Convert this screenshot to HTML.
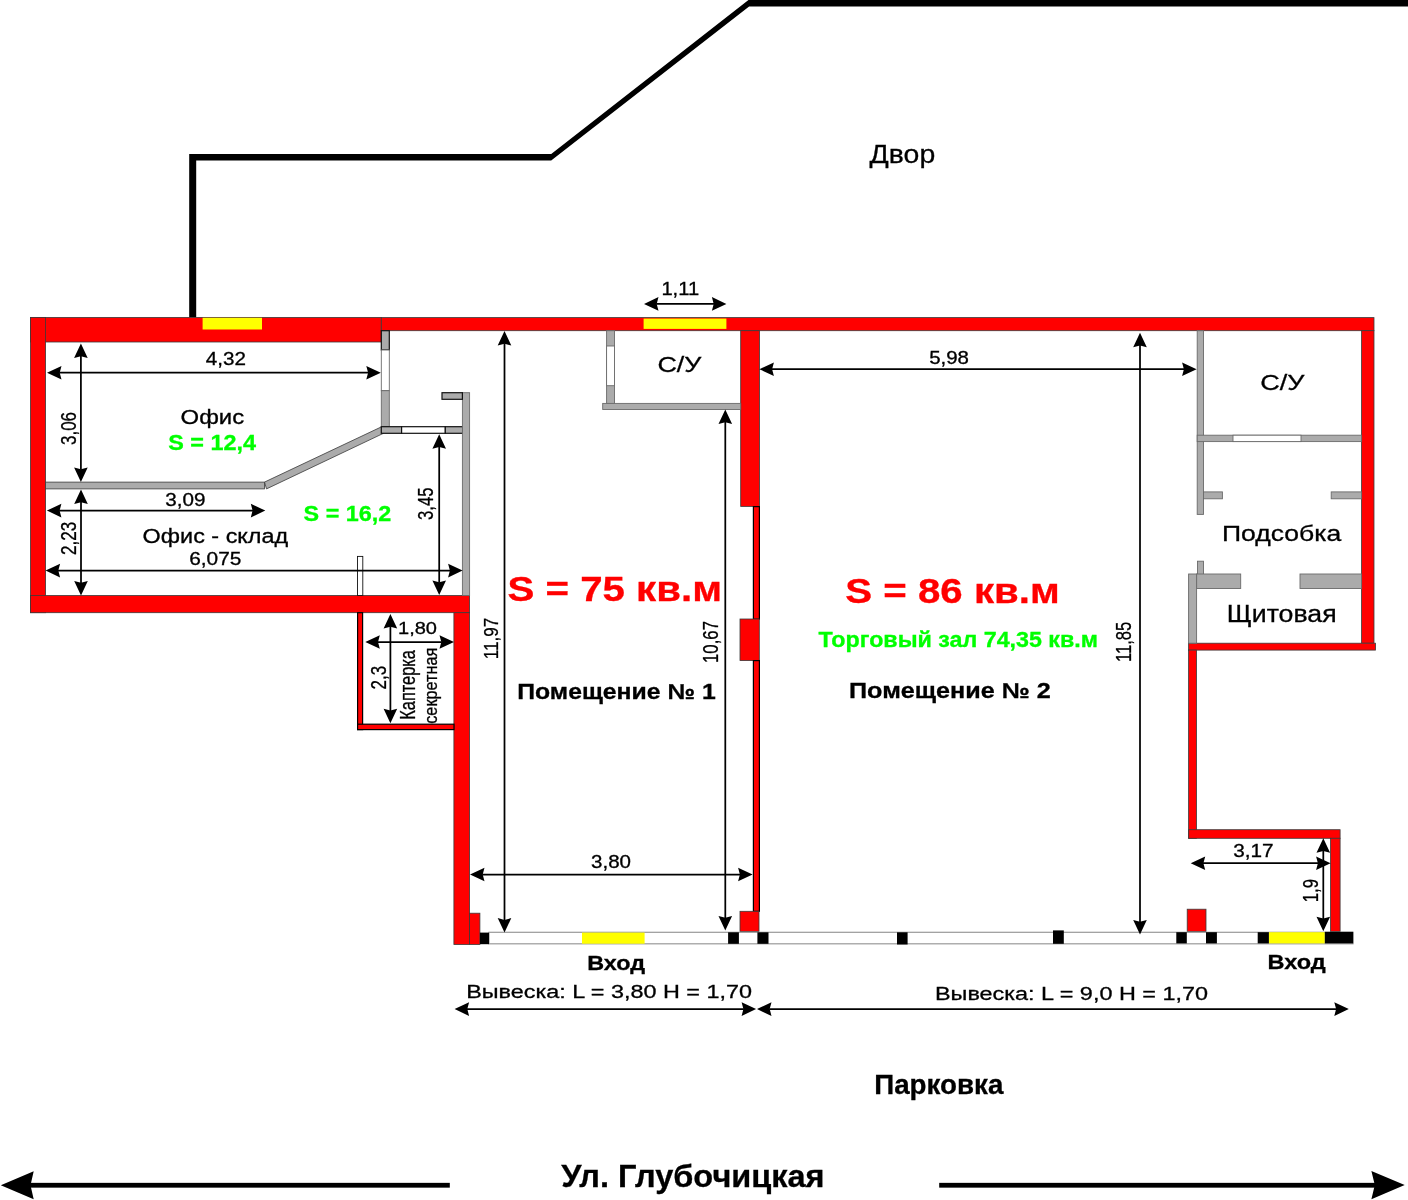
<!DOCTYPE html><html><head><meta charset="utf-8"><style>html,body{margin:0;padding:0;background:#fff;overflow:hidden}svg{display:block;will-change:transform}text{font-family:"Liberation Sans",sans-serif}</style></head><body>
<svg width="1408" height="1200" viewBox="0 0 1408 1200">
<rect width="1408" height="1200" fill="#fff"/>
<polygon points="189.2,317.5 189.2,154 551.2,154 749.1,-0.5 1408,-0.5 1408,6.4 749.1,6.4 551.2,160.4 196.2,160.4 196.2,317.5" fill="#000"/>
<rect x="30.50" y="317.40" width="350.80" height="24.60" fill="#ff0000" stroke="#3a3a3a" stroke-width="0.8"/>
<rect x="381.30" y="317.60" width="992.70" height="13.10" fill="#ff0000" stroke="#3a3a3a" stroke-width="0.8"/>
<rect x="30.50" y="317.40" width="15.10" height="295.30" fill="#ff0000" stroke="#3a3a3a" stroke-width="0.8"/>
<rect x="30.50" y="595.50" width="439.10" height="17.20" fill="#ff0000" stroke="#3a3a3a" stroke-width="0.8"/>
<rect x="1361.60" y="330.70" width="12.40" height="312.50" fill="#ff0000" stroke="#3a3a3a" stroke-width="0.8"/>
<rect x="1188.60" y="643.20" width="186.90" height="6.90" fill="#ff0000" stroke="#3a3a3a" stroke-width="0.8"/>
<rect x="1188.60" y="650.10" width="7.90" height="188.20" fill="#ff0000" stroke="#3a3a3a" stroke-width="0.8"/>
<rect x="1188.70" y="829.70" width="151.40" height="8.60" fill="#ff0000" stroke="#3a3a3a" stroke-width="0.8"/>
<rect x="1330.60" y="838.30" width="9.50" height="93.20" fill="#ff0000" stroke="#3a3a3a" stroke-width="0.8"/>
<rect x="453.90" y="612.70" width="15.70" height="331.80" fill="#ff0000" stroke="#3a3a3a" stroke-width="0.8"/>
<rect x="469.60" y="913.20" width="10.30" height="31.30" fill="#ff0000" stroke="#3a3a3a" stroke-width="0.8"/>
<rect x="740.70" y="330.70" width="18.80" height="175.70" fill="#ff0000" stroke="#3a3a3a" stroke-width="0.8"/>
<rect x="753.40" y="506.60" width="6.00" height="112.60" fill="#ff0000" stroke="#000" stroke-width="1.2"/>
<rect x="740.00" y="619.00" width="19.30" height="41.60" fill="#ff0000" stroke="#3a3a3a" stroke-width="0.8"/>
<rect x="753.40" y="660.60" width="6.00" height="250.70" fill="#ff0000" stroke="#000" stroke-width="1.2"/>
<rect x="740.00" y="911.30" width="19.00" height="20.20" fill="#ff0000" stroke="#3a3a3a" stroke-width="0.8"/>
<rect x="1187.20" y="909.20" width="18.80" height="22.30" fill="#ff0000" stroke="#3a3a3a" stroke-width="0.8"/>
<rect x="357.60" y="612.70" width="5.00" height="116.90" fill="#ff0000" stroke="#000" stroke-width="1.2"/>
<rect x="357.60" y="724.20" width="96.40" height="5.40" fill="#ff0000" stroke="#000" stroke-width="1.2"/>
<rect x="202.60" y="317.80" width="59.40" height="11.70" fill="#ffff00"/>
<rect x="643.60" y="318.60" width="82.80" height="10.30" fill="#ffff00"/>
<rect x="489.00" y="932.30" width="864.00" height="11.50" fill="#fff" stroke="#9a9a9a" stroke-width="1.2"/>
<rect x="582.00" y="932.60" width="62.60" height="11.10" fill="#ffff00"/>
<rect x="1268.90" y="932.20" width="55.90" height="11.20" fill="#ffff00"/>
<rect x="479.90" y="932.60" width="9.10" height="11.60" fill="#000"/>
<rect x="728.10" y="932.30" width="10.80" height="11.50" fill="#000"/>
<rect x="757.40" y="932.30" width="11.10" height="11.50" fill="#000"/>
<rect x="897.00" y="932.30" width="10.60" height="12.20" fill="#000"/>
<rect x="1053.00" y="930.40" width="10.80" height="13.40" fill="#000"/>
<rect x="1176.30" y="932.20" width="10.50" height="11.20" fill="#000"/>
<rect x="1206.00" y="932.20" width="10.90" height="11.20" fill="#000"/>
<rect x="1257.70" y="932.20" width="11.20" height="11.20" fill="#000"/>
<rect x="1324.80" y="931.80" width="28.40" height="11.60" fill="#000"/>
<rect x="45.60" y="482.10" width="218.90" height="6.80" fill="#ababab" stroke="#3a3a3a" stroke-width="0.8"/>
<polygon points="264.5,482.1 381.5,426.8 383.5,433.3 266.5,488.9" fill="#ababab" stroke="#3a3a3a" stroke-width="0.8"/>
<rect x="381.30" y="330.70" width="8.00" height="19.30" fill="#ababab" stroke="#111" stroke-width="1.2"/>
<rect x="381.30" y="350.00" width="8.00" height="40.70" fill="#fff" stroke="#6a6a6a" stroke-width="0.9"/>
<rect x="381.30" y="390.70" width="8.00" height="36.00" fill="#ababab" stroke="#6a6a6a" stroke-width="0.9"/>
<rect x="381.30" y="426.70" width="20.30" height="6.60" fill="#ababab" stroke="#111" stroke-width="1.2"/>
<rect x="401.60" y="426.70" width="43.70" height="6.60" fill="#fff" stroke="#111" stroke-width="1.2"/>
<rect x="445.30" y="426.70" width="17.40" height="6.60" fill="#ababab" stroke="#111" stroke-width="1.2"/>
<rect x="462.40" y="392.70" width="7.20" height="202.80" fill="#ababab" stroke="#6a6a6a" stroke-width="0.9"/>
<rect x="442.00" y="392.70" width="20.40" height="6.60" fill="#ababab" stroke="#111" stroke-width="1.2"/>
<rect x="357.50" y="556.40" width="5.30" height="39.10" fill="#fff" stroke="#111" stroke-width="0.9"/>
<rect x="606.60" y="330.70" width="7.90" height="72.90" fill="#ababab" stroke="#6a6a6a" stroke-width="0.9"/>
<rect x="606.60" y="346.00" width="7.90" height="39.70" fill="#fff" stroke="#6a6a6a" stroke-width="0.9"/>
<rect x="602.70" y="403.40" width="138.00" height="6.10" fill="#ababab" stroke="#6a6a6a" stroke-width="0.9"/>
<rect x="1197.20" y="330.70" width="6.30" height="183.70" fill="#ababab" stroke="#6a6a6a" stroke-width="0.9"/>
<rect x="1197.20" y="435.20" width="164.40" height="6.40" fill="#ababab" stroke="#6a6a6a" stroke-width="0.9"/>
<rect x="1233.00" y="435.20" width="68.00" height="6.40" fill="#fff" stroke="#6a6a6a" stroke-width="0.9"/>
<rect x="1203.50" y="491.90" width="18.90" height="6.90" fill="#ababab" stroke="#6a6a6a" stroke-width="0.9"/>
<rect x="1331.20" y="491.90" width="30.40" height="6.90" fill="#ababab" stroke="#6a6a6a" stroke-width="0.9"/>
<rect x="1197.50" y="561.20" width="6.00" height="13.40" fill="#ababab" stroke="#6a6a6a" stroke-width="0.9"/>
<rect x="1196.60" y="574.00" width="44.10" height="14.50" fill="#ababab" stroke="#6a6a6a" stroke-width="0.9"/>
<rect x="1300.00" y="574.00" width="61.60" height="14.50" fill="#ababab" stroke="#6a6a6a" stroke-width="0.9"/>
<rect x="1188.60" y="574.00" width="8.00" height="69.20" fill="#ababab" stroke="#6a6a6a" stroke-width="0.9"/>
<line x1="59.20" y1="372.70" x2="368.60" y2="372.70" stroke="#000" stroke-width="1.75"/>
<polygon points="380.80,372.70 366.30,379.50 368.10,372.70 366.30,365.90" fill="#000"/>
<polygon points="47.00,372.70 61.50,365.90 59.70,372.70 61.50,379.50" fill="#000"/>
<line x1="80.90" y1="355.70" x2="80.90" y2="469.80" stroke="#000" stroke-width="1.75"/>
<polygon points="80.90,482.00 74.10,467.50 80.90,469.30 87.70,467.50" fill="#000"/>
<polygon points="80.90,343.50 87.70,358.00 80.90,356.20 74.10,358.00" fill="#000"/>
<line x1="59.10" y1="510.60" x2="253.10" y2="510.60" stroke="#000" stroke-width="1.75"/>
<polygon points="265.30,510.60 250.80,517.40 252.60,510.60 250.80,503.80" fill="#000"/>
<polygon points="46.90,510.60 61.40,503.80 59.60,510.60 61.40,517.40" fill="#000"/>
<line x1="81.00" y1="501.80" x2="81.00" y2="583.20" stroke="#000" stroke-width="1.75"/>
<polygon points="81.00,595.40 74.20,580.90 81.00,582.70 87.80,580.90" fill="#000"/>
<polygon points="81.00,489.60 87.80,504.10 81.00,502.30 74.20,504.10" fill="#000"/>
<line x1="57.80" y1="570.60" x2="450.40" y2="570.60" stroke="#000" stroke-width="1.75"/>
<polygon points="462.60,570.60 448.10,577.40 449.90,570.60 448.10,563.80" fill="#000"/>
<polygon points="45.60,570.60 60.10,563.80 58.30,570.60 60.10,577.40" fill="#000"/>
<line x1="439.20" y1="446.40" x2="439.20" y2="582.70" stroke="#000" stroke-width="1.75"/>
<polygon points="439.20,594.90 432.40,580.40 439.20,582.20 446.00,580.40" fill="#000"/>
<polygon points="439.20,434.20 446.00,448.70 439.20,446.90 432.40,448.70" fill="#000"/>
<line x1="377.50" y1="642.00" x2="441.80" y2="642.00" stroke="#000" stroke-width="1.75"/>
<polygon points="454.00,642.00 439.50,648.80 441.30,642.00 439.50,635.20" fill="#000"/>
<polygon points="365.30,642.00 379.80,635.20 378.00,642.00 379.80,648.80" fill="#000"/>
<line x1="390.40" y1="626.20" x2="390.40" y2="711.10" stroke="#000" stroke-width="1.75"/>
<polygon points="390.40,723.30 383.60,708.80 390.40,710.60 397.20,708.80" fill="#000"/>
<polygon points="390.40,614.00 397.20,628.50 390.40,626.70 383.60,628.50" fill="#000"/>
<line x1="504.50" y1="343.20" x2="504.50" y2="920.40" stroke="#000" stroke-width="1.75"/>
<polygon points="504.50,932.60 497.70,918.10 504.50,919.90 511.30,918.10" fill="#000"/>
<polygon points="504.50,331.00 511.30,345.50 504.50,343.70 497.70,345.50" fill="#000"/>
<line x1="656.20" y1="303.90" x2="714.20" y2="303.90" stroke="#000" stroke-width="1.75"/>
<polygon points="726.40,303.90 711.90,310.70 713.70,303.90 711.90,297.10" fill="#000"/>
<polygon points="644.00,303.90 658.50,297.10 656.70,303.90 658.50,310.70" fill="#000"/>
<line x1="725.30" y1="421.70" x2="725.30" y2="918.30" stroke="#000" stroke-width="1.75"/>
<polygon points="725.30,930.50 718.50,916.00 725.30,917.80 732.10,916.00" fill="#000"/>
<polygon points="725.30,409.50 732.10,424.00 725.30,422.20 718.50,424.00" fill="#000"/>
<line x1="482.20" y1="874.50" x2="740.40" y2="874.50" stroke="#000" stroke-width="1.75"/>
<polygon points="752.60,874.50 738.10,881.30 739.90,874.50 738.10,867.70" fill="#000"/>
<polygon points="470.00,874.50 484.50,867.70 482.70,874.50 484.50,881.30" fill="#000"/>
<line x1="771.60" y1="369.20" x2="1184.40" y2="369.20" stroke="#000" stroke-width="1.75"/>
<polygon points="1196.60,369.20 1182.10,376.00 1183.90,369.20 1182.10,362.40" fill="#000"/>
<polygon points="759.40,369.20 773.90,362.40 772.10,369.20 773.90,376.00" fill="#000"/>
<line x1="1140.00" y1="345.00" x2="1140.00" y2="922.30" stroke="#000" stroke-width="1.75"/>
<polygon points="1140.00,934.50 1133.20,920.00 1140.00,921.80 1146.80,920.00" fill="#000"/>
<polygon points="1140.00,332.80 1146.80,347.30 1140.00,345.50 1133.20,347.30" fill="#000"/>
<line x1="1202.90" y1="863.20" x2="1318.40" y2="863.20" stroke="#000" stroke-width="1.75"/>
<polygon points="1330.60,863.20 1316.10,870.00 1317.90,863.20 1316.10,856.40" fill="#000"/>
<polygon points="1190.70,863.20 1205.20,856.40 1203.40,863.20 1205.20,870.00" fill="#000"/>
<line x1="1323.30" y1="850.50" x2="1323.30" y2="919.10" stroke="#000" stroke-width="1.75"/>
<polygon points="1323.30,931.30 1316.50,916.80 1323.30,918.60 1330.10,916.80" fill="#000"/>
<polygon points="1323.30,838.30 1330.10,852.80 1323.30,851.00 1316.50,852.80" fill="#000"/>
<line x1="466.80" y1="1009.10" x2="743.90" y2="1009.10" stroke="#000" stroke-width="1.75"/>
<polygon points="756.10,1009.10 741.60,1015.90 743.40,1009.10 741.60,1002.30" fill="#000"/>
<polygon points="454.60,1009.10 469.10,1002.30 467.30,1009.10 469.10,1015.90" fill="#000"/>
<line x1="769.20" y1="1009.10" x2="1336.60" y2="1009.10" stroke="#000" stroke-width="1.75"/>
<polygon points="1348.80,1009.10 1334.30,1015.90 1336.10,1009.10 1334.30,1002.30" fill="#000"/>
<polygon points="757.00,1009.10 771.50,1002.30 769.70,1009.10 771.50,1015.90" fill="#000"/>
<rect x="25" y="1182.85" width="424.8" height="4.8" fill="#000"/>
<polygon points="0.80,1185.20 33.70,1171.25 30.50,1185.20 33.70,1199.15" fill="#000"/>
<rect x="939.2" y="1182.85" width="440" height="4.8" fill="#000"/>
<polygon points="1404.70,1185.10 1371.40,1199.15 1374.80,1185.10 1371.40,1171.05" fill="#000"/>
<text x="869.60" y="163.4" font-size="26.5" stroke="#000" stroke-width="0.3" fill="#000" textLength="65.60" lengthAdjust="spacingAndGlyphs">Двор</text>
<text x="205.80" y="364.8" font-size="17.8" stroke="#000" stroke-width="0.3" fill="#000" textLength="40.20" lengthAdjust="spacingAndGlyphs">4,32</text>
<text x="180.60" y="423.6" font-size="20" stroke="#000" stroke-width="0.3" fill="#000" textLength="63.60" lengthAdjust="spacingAndGlyphs">Офис</text>
<text x="168.20" y="449.8" font-size="21.5" font-weight="bold" stroke="#00ff00" stroke-width="0.3" fill="#00ff00" textLength="87.80" lengthAdjust="spacingAndGlyphs">S = 12,4</text>
<text x="165.20" y="505.8" font-size="17.8" stroke="#000" stroke-width="0.3" fill="#000" textLength="40.20" lengthAdjust="spacingAndGlyphs">3,09</text>
<text x="142.60" y="542.6" font-size="20" stroke="#000" stroke-width="0.3" fill="#000" textLength="145.60" lengthAdjust="spacingAndGlyphs">Офис - склад</text>
<text x="189.20" y="564.8" font-size="17.8" stroke="#000" stroke-width="0.3" fill="#000" textLength="52.20" lengthAdjust="spacingAndGlyphs">6,075</text>
<text x="303.60" y="521.2" font-size="21.5" font-weight="bold" stroke="#00ff00" stroke-width="0.3" fill="#00ff00" textLength="87.60" lengthAdjust="spacingAndGlyphs">S = 16,2</text>
<text x="398.00" y="633.6" font-size="17" stroke="#000" stroke-width="0.3" fill="#000" textLength="39.00" lengthAdjust="spacingAndGlyphs">1,80</text>
<text x="661.40" y="294.7" font-size="17.8" stroke="#000" stroke-width="0.3" fill="#000" textLength="37.80" lengthAdjust="spacingAndGlyphs">1,11</text>
<text x="657.40" y="372.2" font-size="22.3" stroke="#000" stroke-width="0.3" fill="#000" textLength="44.00" lengthAdjust="spacingAndGlyphs">С/У</text>
<text x="507.40" y="600.9" font-size="35.5" font-weight="bold" stroke="#ff0000" stroke-width="0.3" fill="#ff0000" textLength="214.60" lengthAdjust="spacingAndGlyphs">S = 75 кв.м</text>
<text x="517.20" y="698.6" font-size="21.7" font-weight="bold" stroke="#000" stroke-width="0.3" fill="#000" textLength="198.60" lengthAdjust="spacingAndGlyphs">Помещение № 1</text>
<text x="591.00" y="868.1" font-size="17.8" stroke="#000" stroke-width="0.3" fill="#000" textLength="40.00" lengthAdjust="spacingAndGlyphs">3,80</text>
<text x="587.20" y="969.8" font-size="20.1" font-weight="bold" stroke="#000" stroke-width="0.3" fill="#000" textLength="57.80" lengthAdjust="spacingAndGlyphs">Вход</text>
<text x="466.20" y="997.5" font-size="19.2" stroke="#000" stroke-width="0.3" fill="#000" textLength="285.80" lengthAdjust="spacingAndGlyphs">Вывеска: L = 3,80 H = 1,70</text>
<text x="929.20" y="363.7" font-size="17.8" stroke="#000" stroke-width="0.3" fill="#000" textLength="39.80" lengthAdjust="spacingAndGlyphs">5,98</text>
<text x="845.20" y="602.8" font-size="35.5" font-weight="bold" stroke="#ff0000" stroke-width="0.3" fill="#ff0000" textLength="214.60" lengthAdjust="spacingAndGlyphs">S = 86 кв.м</text>
<text x="818.60" y="646.9" font-size="21.4" font-weight="bold" stroke="#00ff00" stroke-width="0.3" fill="#00ff00" textLength="279.40" lengthAdjust="spacingAndGlyphs">Торговый зал 74,35 кв.м</text>
<text x="849.00" y="698.3" font-size="21.7" font-weight="bold" stroke="#000" stroke-width="0.3" fill="#000" textLength="201.80" lengthAdjust="spacingAndGlyphs">Помещение № 2</text>
<text x="1260.20" y="389.6" font-size="22.3" stroke="#000" stroke-width="0.3" fill="#000" textLength="44.20" lengthAdjust="spacingAndGlyphs">С/У</text>
<text x="1222.00" y="540.8" font-size="22.3" stroke="#000" stroke-width="0.3" fill="#000" textLength="119.20" lengthAdjust="spacingAndGlyphs">Подсобка</text>
<text x="1226.80" y="622.4" font-size="23" stroke="#000" stroke-width="0.3" fill="#000" textLength="109.80" lengthAdjust="spacingAndGlyphs">Щитовая</text>
<text x="1233.20" y="856.9" font-size="17.8" stroke="#000" stroke-width="0.3" fill="#000" textLength="40.40" lengthAdjust="spacingAndGlyphs">3,17</text>
<text x="1267.60" y="968.9" font-size="20.1" font-weight="bold" stroke="#000" stroke-width="0.3" fill="#000" textLength="58.20" lengthAdjust="spacingAndGlyphs">Вход</text>
<text x="935.00" y="999.6" font-size="19.2" stroke="#000" stroke-width="0.3" fill="#000" textLength="273.00" lengthAdjust="spacingAndGlyphs">Вывеска: L = 9,0 H = 1,70</text>
<text x="874.20" y="1093.9" font-size="27" font-weight="bold" stroke="#000" stroke-width="0.3" fill="#000" textLength="129.20" lengthAdjust="spacingAndGlyphs">Парковка</text>
<text x="561.20" y="1187.1" font-size="31.7" font-weight="bold" stroke="#000" stroke-width="0.3" fill="#000" textLength="263.40" lengthAdjust="spacingAndGlyphs">Ул. Глубочицкая</text>
<text transform="translate(75.75,445.00) rotate(-90)" font-size="22.53" stroke="#000" stroke-width="0.3" textLength="33.00" lengthAdjust="spacingAndGlyphs">3,06</text>
<text transform="translate(76,555.00) rotate(-90)" font-size="21.8" stroke="#000" stroke-width="0.3" textLength="33.20" lengthAdjust="spacingAndGlyphs">2,23</text>
<text transform="translate(433,520.00) rotate(-90)" font-size="21.95" stroke="#000" stroke-width="0.3" textLength="32.40" lengthAdjust="spacingAndGlyphs">3,45</text>
<text transform="translate(386.1,689.40) rotate(-90)" font-size="21.8" stroke="#000" stroke-width="0.3" textLength="23.60" lengthAdjust="spacingAndGlyphs">2,3</text>
<text transform="translate(497.7,659.20) rotate(-90)" font-size="20.93" stroke="#000" stroke-width="0.3" textLength="41.40" lengthAdjust="spacingAndGlyphs">11,97</text>
<text transform="translate(717.8,663.00) rotate(-90)" font-size="22.53" stroke="#000" stroke-width="0.3" textLength="42.00" lengthAdjust="spacingAndGlyphs">10,67</text>
<text transform="translate(1131.3,662.00) rotate(-90)" font-size="21.51" stroke="#000" stroke-width="0.3" textLength="40.20" lengthAdjust="spacingAndGlyphs">11,85</text>
<text transform="translate(1317.7,902.20) rotate(-90)" font-size="21.66" stroke="#000" stroke-width="0.3" textLength="23.20" lengthAdjust="spacingAndGlyphs">1,9</text>
<text transform="translate(414.9,719.80) rotate(-90)" font-size="21.22" stroke="#000" stroke-width="0.3" textLength="69.80" lengthAdjust="spacingAndGlyphs">Каптерка</text>
<text transform="translate(436.6,723.80) rotate(-90)" font-size="19.13" stroke="#000" stroke-width="0.3" textLength="76.20" lengthAdjust="spacingAndGlyphs">секретная</text>
</svg></body></html>
